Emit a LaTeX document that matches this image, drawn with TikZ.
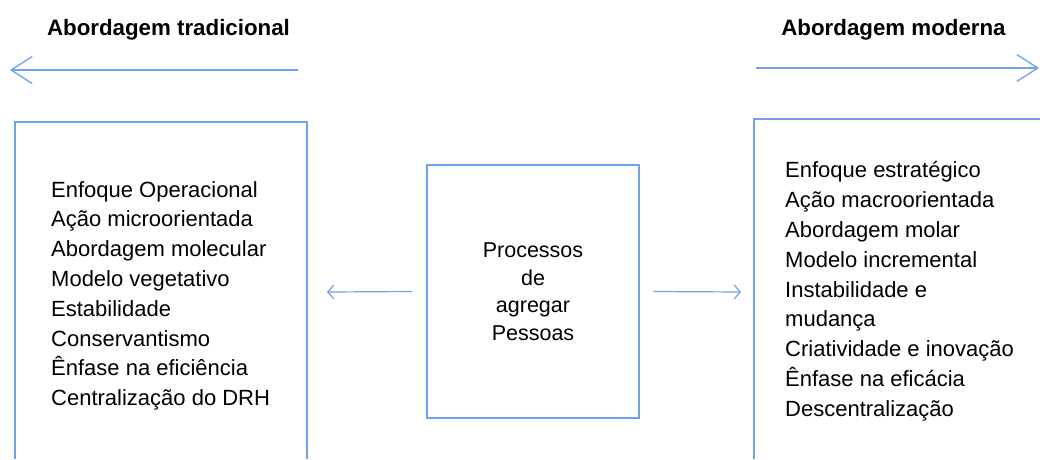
\documentclass[tikz,border=0pt]{standalone}
\usepackage{fontspec}
\setmainfont{Liberation Sans}
\usetikzlibrary{arrows.meta}
\definecolor{lineblue}{RGB}{112,160,238}
\tikzset{
  frame/.style={draw=lineblue, line width=1.3pt},
  bigarrow/.style={draw=lineblue, line width=1.3pt, -{Straight Barb[length=21pt,width=27pt,line width=1.3pt]}},
  smallarrow/.style={draw=lineblue, line width=1.2pt, -{Straight Barb[length=6pt,width=14pt,line width=1.2pt]}},
  heading/.style={font=\fontsize{22.3}{26}\selectfont\bfseries, inner sep=0pt, anchor=base},
  listtext/.style={font=\fontsize{22}{29.8}\selectfont, align=left, inner sep=0pt, anchor=north west},
}
\begin{document}
\begin{tikzpicture}[x=1pt,y=-1pt]
\useasboundingbox (0,0) rectangle (1040,459);

% headings
\node[heading] (tradTitle) at (168.5,35) {Abordagem tradicional};
\node[heading] (modTitle) at (893.5,35) {Abordagem moderna};

% direction arrows under the headings
\coordinate (tradStart) at (298,70);
\coordinate (tradEnd) at (10,70);
\coordinate (modStart) at (756,68);
\coordinate (modEnd) at (1039,68);
\draw[bigarrow] (tradStart) -- (tradEnd);
\draw[bigarrow] (modStart) -- (modEnd);

% side frames (open towards the page edges)
\draw[frame] (15,459) -- (15,122) -- (307,122) -- (307,459);
\draw[frame] (754,459) -- (754,119) -- (1040,119);

% lists
\node[listtext] (tradList) at (51,181) {Enfoque Operacional\\Ação microorientada\\Abordagem molecular\\Modelo vegetativo\\Estabilidade\\Conservantismo\\Ênfase na eficiência\\Centralização do DRH};
\node[listtext] (modList) at (785,161.5) {Enfoque estratégico\\Ação macroorientada\\Abordagem molar\\Modelo incremental\\Instabilidade e\\mudança\\Criatividade e inovação\\Ênfase na eficácia\\Descentralização};

% central process box
\node[frame, minimum width=212pt, minimum height=253pt, inner sep=0pt, align=center,
      font=\fontsize{21.5}{27.5}\selectfont] (proc) at (533,291.5) {Processos\\de\\agregar\\Pessoas};

% arrows from the process box to both sides
\coordinate (leftTip) at (327,292);
\coordinate (rightTip) at (741,292);
\draw[smallarrow] ([xshift=-14pt]proc.west) -- (leftTip);
\draw[smallarrow] ([xshift=14pt]proc.east) -- (rightTip);
\end{tikzpicture}
\end{document}
